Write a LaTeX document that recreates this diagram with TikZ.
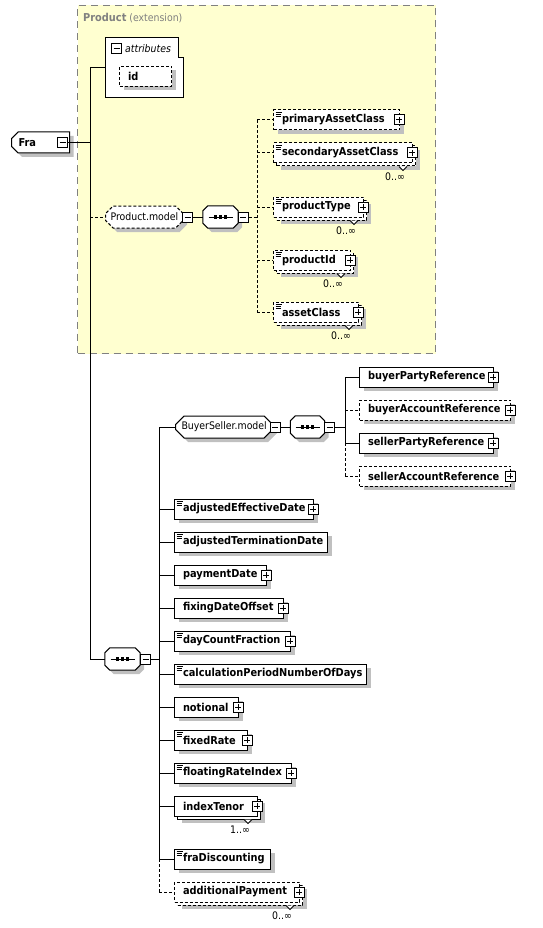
\documentclass[tikz,border=0pt]{standalone}
\usepackage{fontspec}
\setmainfont{DejaVu Sans}[FakeStretch=0.9]
\usetikzlibrary{shapes.misc,shadows,calc}
\definecolor{extyellow}{RGB}{255,255,208}
\definecolor{shadowgray}{RGB}{192,192,192}
\definecolor{extgray}{RGB}{128,128,128}
\newcommand\elfont{\fontsize{10.9}{12}\selectfont\bfseries}
\newcommand\rgfont{\fontsize{10.4}{12}\selectfont}
\tikzset{
  lw/.style={line width=1pt},
  dsh/.style={dash pattern=on 3pt off 2pt},
  shad/.style={general shadow={shadow xshift=4pt,shadow yshift=-4pt,fill=shadowgray}},
  elbox/.style={draw, line width=1pt, fill=white, rectangle, anchor=west, minimum height=20pt,
    inner xsep=8.5pt, inner ysep=0pt, align=left, font=\elfont},
  tog/.style={draw, line width=1pt, fill=white, rectangle, minimum size=10pt, inner sep=0pt},
  minusbox/.style={tog, path picture={\draw[line width=1pt]
      ([xshift=2pt]path picture bounding box.west) -- ([xshift=-2pt]path picture bounding box.east);}},
  plusbox/.style={tog, path picture={\draw[line width=1pt]
      ([xshift=2pt]path picture bounding box.west) -- ([xshift=-2pt]path picture bounding box.east)
      ([yshift=-2pt]path picture bounding box.north) -- ([yshift=2pt]path picture bounding box.south);}},
  modelbox/.style={chamfered rectangle, chamfered rectangle xsep=5pt, draw, line width=1pt,
    fill=white, minimum height=22pt, inner xsep=1pt, inner ysep=0pt, font=\rgfont, shad, anchor=west},
  seqarea/.style={rectangle, minimum height=22pt, inner sep=0pt},
  multlabel/.style={font=\rgfont, anchor=north east, inner sep=0pt},
}
% element: name, x, y, width, text, extra style
\newcommand\El[6]{\pgfmathsetmacro\tw{#4-17}%
  \node[elbox,shad,text width=\tw pt,#6] (#1) at (#2,#3) {\mbox{#5}};}
% multiple element: name, x, y, width, text, extra style, multiplicity
\newcommand\ElM[7]{\pgfmathsetmacro\tw{#4-17}%
  \node[elbox,shad,text width=\tw pt,#6] (#1b) at (#2+3,#3+3) {};
  \draw[line width=1pt, fill=white] ($(#1b.south east)+(-17,0)$) -- ++(4,4) -- ++(4,-4);
  \node[elbox,text width=\tw pt,#6] (#1) at (#2,#3) {\mbox{#5}};
  \node[multlabel] (#1m) at ($(#1b.south east)+(-11,6.5)$) {#7};}
\newcommand\Doc[1]{\draw[line width=0.8pt]
  ([shift={(2.5,2.5)}]#1.north west) -- ++(6,0)
  ([shift={(2.5,4.5)}]#1.north west) -- ++(5,0)
  ([shift={(2.5,6.5)}]#1.north west) -- ++(5,0);}
\newcommand\Pl[1]{\node[plusbox] (#1p) at ([xshift=-1pt]#1.east) {};}
% octagon outline around a node, offset (#2,#3)
\newcommand\OctP[3]{($(#1.north west)+(5+#2,#3)$) -- ($(#1.north east)+(-5+#2,#3)$)
  -- ($(#1.north east)+(#2,5+#3)$) -- ($(#1.south east)+(#2,-5+#3)$)
  -- ($(#1.south east)+(-5+#2,#3)$) -- ($(#1.south west)+(5+#2,#3)$)
  -- ($(#1.south west)+(#2,-5+#3)$) -- ($(#1.north west)+(#2,5+#3)$) -- cycle}
% sequence compositor: name, x, y, width
\newcommand\Seq[4]{%
  \node[seqarea, minimum width=#4pt] (#1) at (#2,#3) {};
  \fill[shadowgray] \OctP{#1}{4}{4};
  \draw[lw, fill=white] \OctP{#1}{0}{0};
  \draw[line width=1pt] ([xshift=-12pt]#1.center) -- ([xshift=12pt]#1.center);
  \foreach \k in {-5,0,5}{\fill ([shift={(\k-1.6,-1.6)}]#1.center) rectangle ++(3.2,3.2);}}
\begin{document}
\begin{tikzpicture}[x=1pt,y=-1pt]
\useasboundingbox (0,0) rectangle (542,928);
\fill[white] (0,0) rectangle (542,928);
\coordinate (sp1) at (90,0);
\coordinate (sp2) at (257,0);
\coordinate (sp3) at (159,0);
\coordinate (sp4) at (345,0);

% extension area
\node[draw=extgray, line width=1pt, dash pattern=on 7pt off 5pt, fill=extyellow,
  minimum width=358pt, minimum height=348pt, anchor=north west, inner sep=0pt] (prodext) at (77,5) {};
\node[anchor=west, text=extgray, inner sep=0pt, font=\rgfont] (prodlbl) at (83,18)
  {{\elfont Product} (extension)};

% root
\node[chamfered rectangle, chamfered rectangle corners={north west,south west},
  chamfered rectangle xsep=3pt, draw, line width=1pt, fill=white, shad, anchor=west,
  minimum height=21pt, text width=44pt, align=left, inner xsep=4pt, inner ysep=0pt, font=\elfont]
  (fra) at (11,142.5) {Fra};
\node[minusbox] (fram) at (62.5,142.5) {};

% attributes
\node[anchor=north west, minimum width=78pt, minimum height=59pt, inner sep=0pt] (attrs) at (105,38) {};
\draw[line width=1pt, fill=white] (attrs.north west) -- ($(attrs.north east)+(-5,0)$)
  -- ($(attrs.north east)+(-5,20)$) -- ($(attrs.north east)+(0,20)$)
  -- (attrs.south east) -- (attrs.south west) -- cycle;
\node[minusbox] (attrm) at (116.5,49) {};
\node[anchor=west, inner sep=0pt, font=\rgfont\itshape] (attrt) at (125,48.5) {attributes};
\El{idatt}{119}{76.5}{52}{id}{dsh}

% Product.model
\node[modelbox, dsh, minimum width=76pt] (pmodel) at (105,217) {Product.model};
\node[minusbox] (pmodelm) at (187.5,217) {};
\Seq{pseq}{220.5}{217}{35}
\node[minusbox] (pseqm) at (243,217) {};

\El{pac}{273}{120}{126}{primaryAssetClass}{dsh}
\Doc{pac}\Pl{pac}
\ElM{sac}{273}{153}{139}{secondaryAssetClass}{dsh}{0..∞}
\Doc{sac}\Pl{sac}
\ElM{ptype}{273}{207}{90}{productType}{dsh}{0..∞}
\Doc{ptype}\Pl{ptype}
\ElM{pid}{273}{260}{77}{productId}{dsh}{0..∞}
\Doc{pid}\Pl{pid}
\ElM{ac}{273}{312}{85}{assetClass}{dsh}{0..∞}
\Doc{ac}\Pl{ac}

% main sequence
\Seq{mseq}{122.5}{659}{35}
\node[minusbox] (mseqm) at (145.5,659) {};

% BuyerSeller.model
\node[modelbox, minimum width=94pt] (bsm) at (175,427) {BuyerSeller.model};
\node[minusbox] (bsmm) at (275,427) {};
\Seq{bseq}{307.5}{427}{34}
\node[minusbox] (bseqm) at (329.5,427) {};

\El{bpr}{359}{377}{134}{buyerPartyReference}{}\Pl{bpr}
\El{bar}{359}{410}{151}{buyerAccountReference}{dsh}\Pl{bar}
\El{spr}{359}{443}{134}{sellerPartyReference}{}\Pl{spr}
\El{sar}{359}{476}{151}{sellerAccountReference}{dsh}\Pl{sar}

\El{aed}{174}{509}{139}{adjustedEffectiveDate}{}\Doc{aed}\Pl{aed}
\El{atd}{174}{542}{153}{adjustedTerminationDate}{}\Doc{atd}
\El{pd}{174}{575}{92}{paymentDate}{}\Pl{pd}
\El{fdo}{174}{608}{109}{fixingDateOffset}{}\Pl{fdo}
\El{dcf}{174}{641}{116}{dayCountFraction}{}\Doc{dcf}\Pl{dcf}
\El{cpn}{174}{674}{192}{calculationPeriodNumberOfDays}{}\Doc{cpn}
\El{ntl}{174}{707}{64}{notional}{}\Pl{ntl}
\El{fxr}{174}{740}{73}{fixedRate}{}\Doc{fxr}\Pl{fxr}
\El{fri}{174}{773}{117}{floatingRateIndex}{}\Doc{fri}\Pl{fri}
\ElM{itn}{174}{806}{83}{indexTenor}{}{1..∞}\Pl{itn}
\El{frd}{174}{859}{96}{fraDiscounting}{}\Doc{frd}
\ElM{adp}{174}{892}{125}{additionalPayment}{dsh}{0..∞}\Pl{adp}

% connectors: root level
\draw[lw] (fram.east) -- (fram.east -| sp1);
\draw[lw] (attrs.west -| sp1) -- (mseq.west -| sp1);
\draw[lw] (attrs.west -| sp1) -- (attrs.west);
\draw[lw,dsh] (pmodel.west -| sp1) -- (pmodel.west);
\draw[lw] (mseq.west -| sp1) -- (mseq.west);

% Product.model
\draw[lw] (pmodelm.east) -- (pseq.west);
\draw[lw,dsh] (pseqm.east) -- (pseqm.east -| sp2);
\draw[lw,dsh] (pac.west -| sp2) -- (ac.west -| sp2);
\foreach \n in {pac,sac,ptype,pid,ac}{\draw[lw,dsh] (\n.west -| sp2) -- (\n.west);}

% main sequence
\draw[lw] (mseqm.east) -- (mseqm.east -| sp3);
\draw[lw] (bsm.west -| sp3) -- (frd.west -| sp3);
\draw[lw,dsh] (frd.west -| sp3) -- (adp.west -| sp3);
\foreach \n in {bsm,aed,atd,pd,fdo,dcf,cpn,ntl,fxr,fri,itn,frd}{\draw[lw] (\n.west -| sp3) -- (\n.west);}
\draw[lw,dsh] (adp.west -| sp3) -- (adp.west);

% BuyerSeller.model
\draw[lw] (bsmm.east) -- (bseq.west);
\draw[lw] (bseqm.east) -- (bseqm.east -| sp4);
\draw[lw] (bpr.west -| sp4) -- (spr.west -| sp4);
\draw[lw,dsh] (spr.west -| sp4) -- (sar.west -| sp4);
\draw[lw] (bpr.west -| sp4) -- (bpr.west);
\draw[lw] (spr.west -| sp4) -- (spr.west);
\draw[lw,dsh] (bar.west -| sp4) -- (bar.west);
\draw[lw,dsh] (sar.west -| sp4) -- (sar.west);
\end{tikzpicture}
\end{document}
